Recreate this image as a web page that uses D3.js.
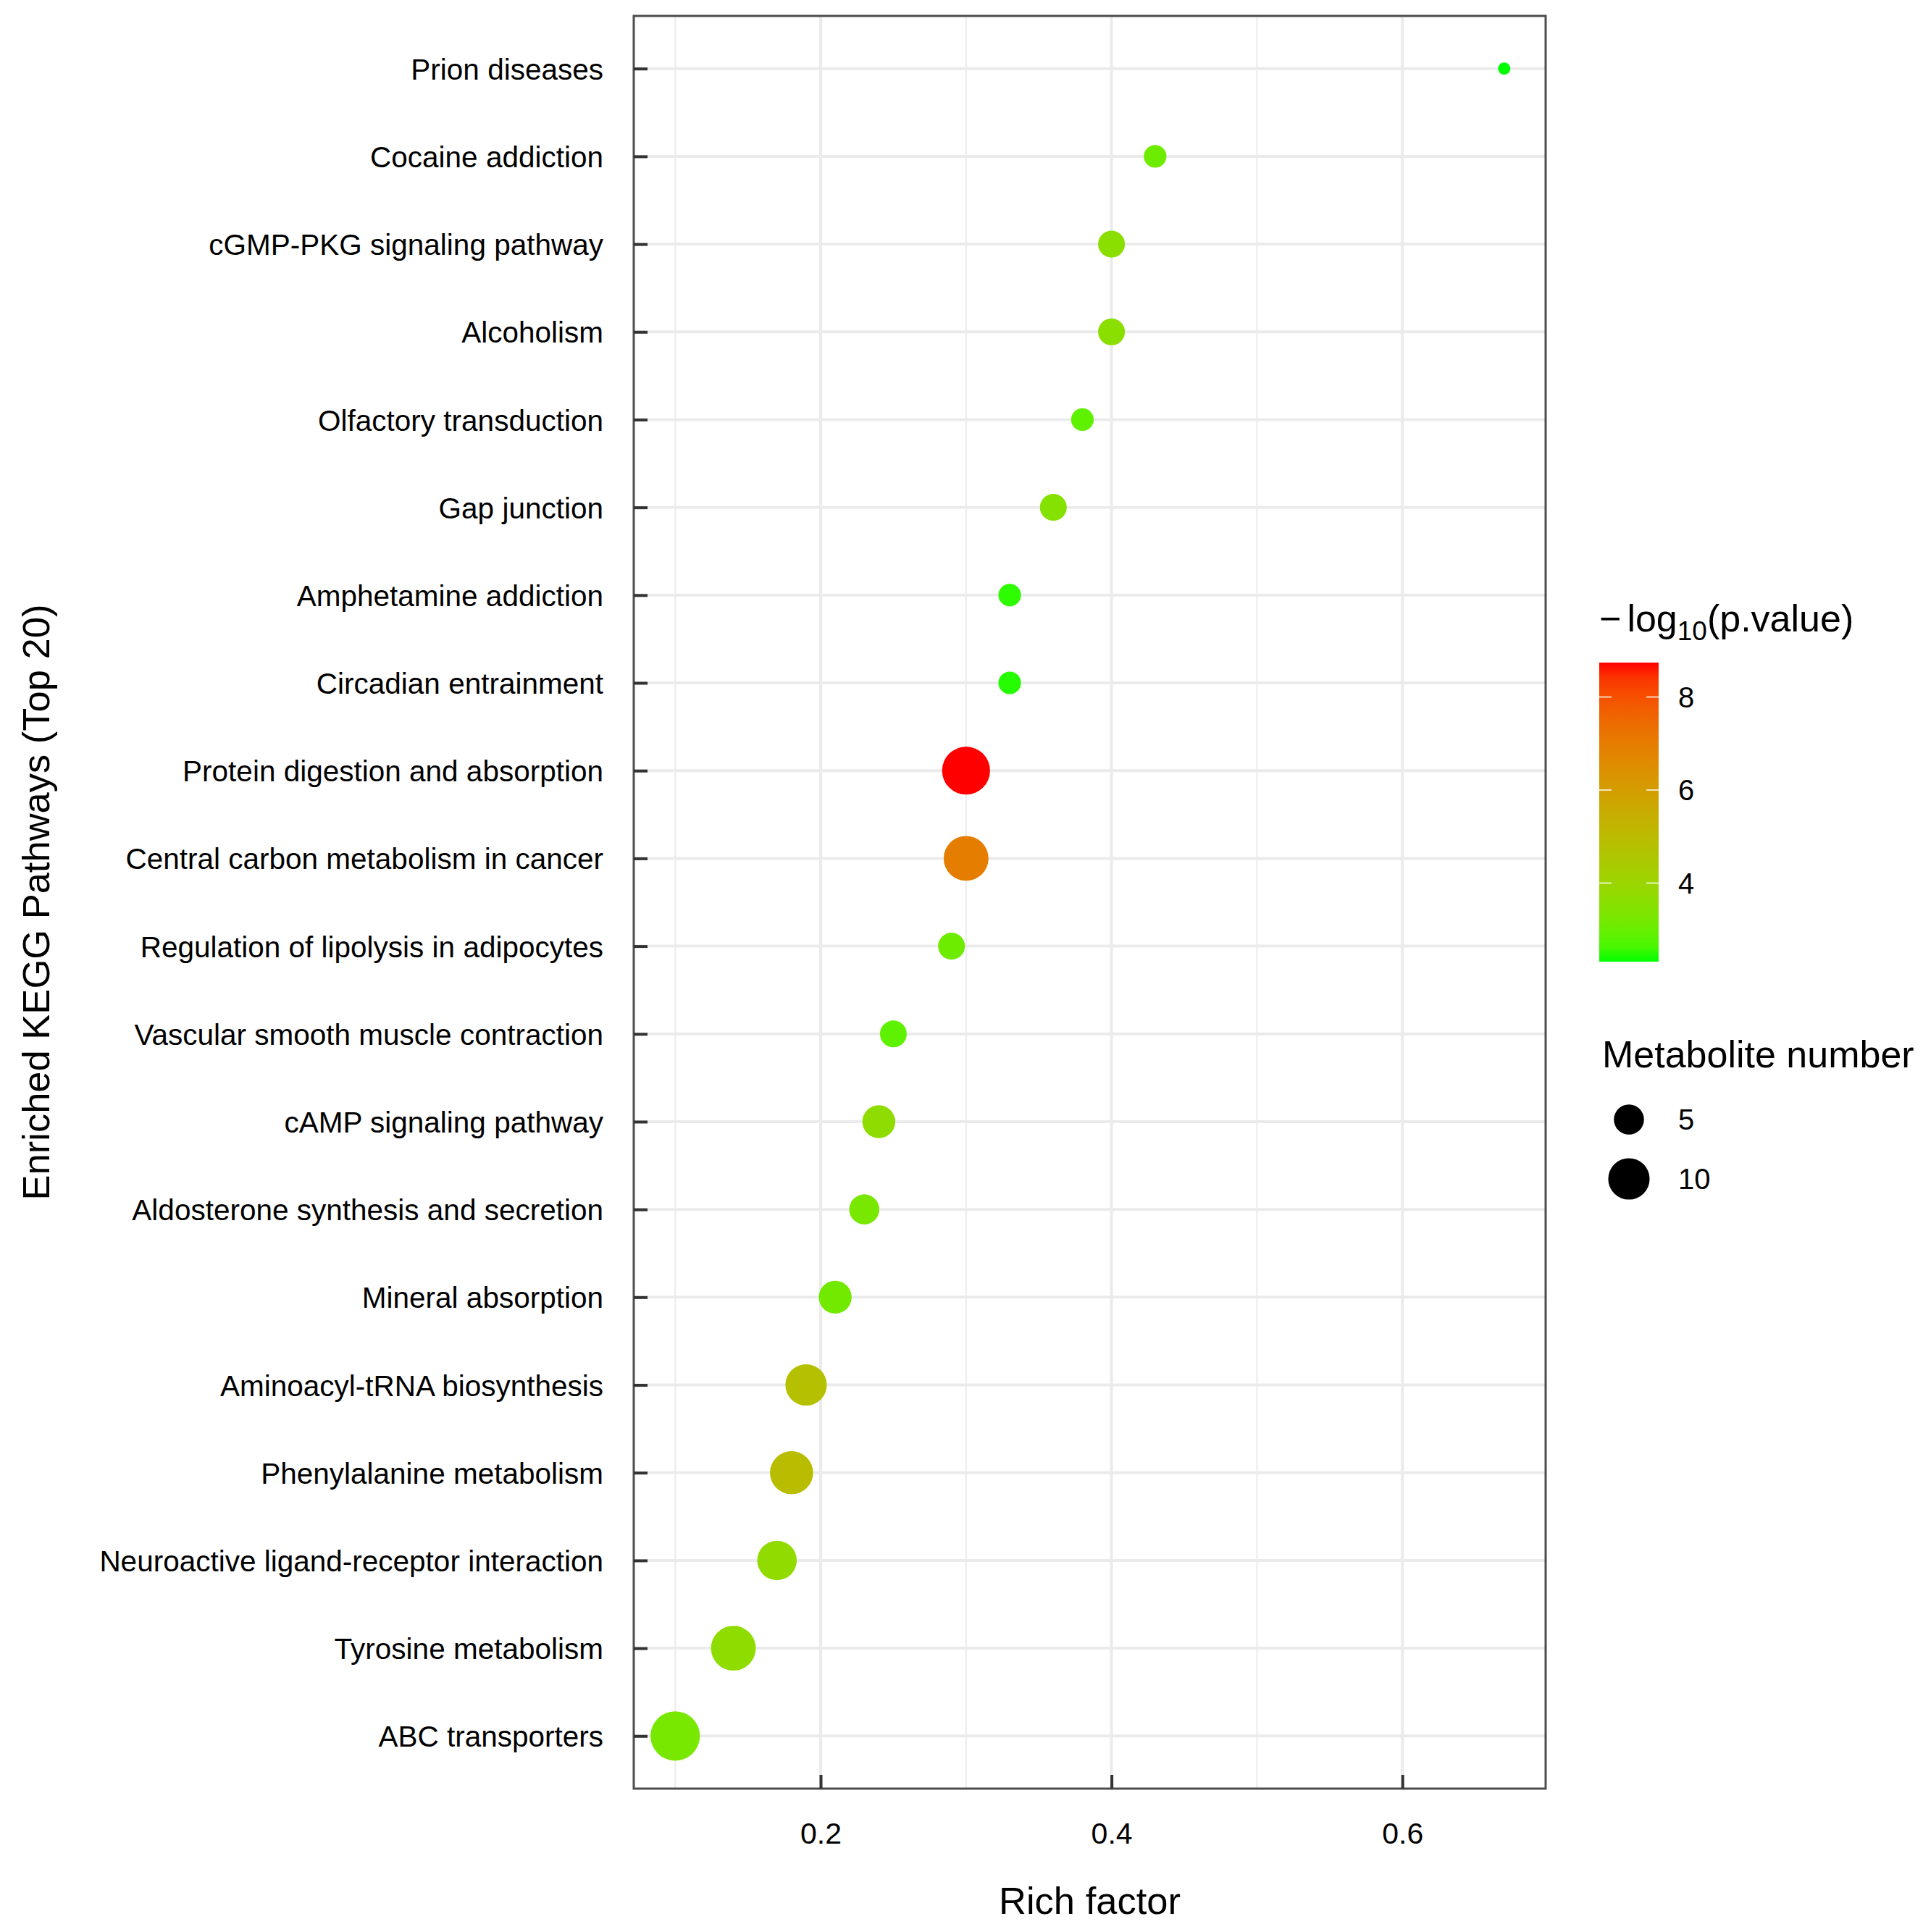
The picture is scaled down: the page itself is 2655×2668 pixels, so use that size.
<!DOCTYPE html>
<html>
<head>
<meta charset="utf-8">
<script src="https://cdn.jsdelivr.net/npm/d3@7"></script>
<style>
  body { margin: 0; background: #fff; }
  text { font-family: "Liberation Sans", Arial, sans-serif; fill: #000; }
</style>
</head>
<body>
<div id="kegg-bubble-plot"></div>
<script>
const width = 2655
const height = 2668

// Panel box (ggplot-like layout)
const panel = { left: 875, right: 2134, top: 22, bottom: 2470 }

// --- Data (top to bottom as in the figure) ---
const pathways = [
  "Prion diseases", "Cocaine addiction", "cGMP-PKG signaling pathway", "Alcoholism",
  "Olfactory transduction", "Gap junction", "Amphetamine addiction", "Circadian entrainment",
  "Protein digestion and absorption", "Central carbon metabolism in cancer",
  "Regulation of lipolysis in adipocytes", "Vascular smooth muscle contraction",
  "cAMP signaling pathway", "Aldosterone synthesis and secretion", "Mineral absorption",
  "Aminoacyl-tRNA biosynthesis", "Phenylalanine metabolism",
  "Neuroactive ligand-receptor interaction", "Tyrosine metabolism", "ABC transporters"
]
const richFactor = [0.67, 0.43, 0.40, 0.40, 0.38, 0.36, 0.33, 0.33, 0.30, 0.30,
                    0.29, 0.25, 0.24, 0.23, 0.21, 0.19, 0.18, 0.17, 0.14, 0.10]
const metaboliteNumber = [2, 3, 4, 4, 3, 4, 3, 3, 14, 12, 4, 4, 6, 5, 6, 10, 11, 9, 12, 15]
const negLogP = [2.31, 3.08, 3.62, 3.62, 2.86, 3.50, 2.44, 2.40, 8.74, 6.94,
                 3.08, 2.86, 3.72, 3.25, 3.15, 4.80, 4.92, 3.78, 3.70, 3.25]

const xTicks = [0.2, 0.4, 0.6]
const xMinorTicks = [0.1, 0.3, 0.5]
const colorTicks = [4, 6, 8]
const sizeBreaks = [5, 10]

const rows = pathways.map((p, i) => ({
  pathway: p, rich: richFactor[i], count: metaboliteNumber[i], p: negLogP[i]
}))

const svg = d3.select("#kegg-bubble-plot")
  .append("svg")
    .attr("width", width)
    .attr("height", height)

svg.append("rect").attr("width", width).attr("height", height).attr("fill", "#fff")

// --- Scales ---
const xExtent = d3.extent(richFactor)
const xPad = (xExtent[1] - xExtent[0]) * 0.05
const xScale = d3.scaleLinear()
  .domain([xExtent[0] - xPad, xExtent[1] + xPad])
  .range([panel.left, panel.right])

const yScale = d3.scalePoint()
  .domain(pathways)
  .range([panel.top, panel.bottom])
  .padding(0.6)

const pExtent = d3.extent(negLogP)
const colorScale = d3.scaleLinear()
  .domain(pExtent)
  .range(["#00ff00", "#ff0000"])
  .interpolate(d3.interpolateLab)

// area-style size scale: radius grows with sqrt of rescaled count
const countScale = d3.scaleLinear().domain(d3.extent(metaboliteNumber)).range([0, 1])
const radiusScale = d3.scaleLinear().domain([0, 1]).range([8.5, 34.1])
const radius = v => radiusScale(Math.sqrt(Math.max(0, countScale(v))))

// --- Grid ---
const grid = svg.append("g").attr("stroke", "#ebebeb")

grid.selectAll(".minor-x")
  .data(xMinorTicks)
  .join("line")
    .attr("x1", d => xScale(d)).attr("x2", d => xScale(d))
    .attr("y1", panel.top).attr("y2", panel.bottom)
    .attr("stroke-width", 2)

grid.selectAll(".major-x")
  .data(xTicks)
  .join("line")
    .attr("x1", d => xScale(d)).attr("x2", d => xScale(d))
    .attr("y1", panel.top).attr("y2", panel.bottom)
    .attr("stroke-width", 4)

grid.selectAll(".major-y")
  .data(pathways)
  .join("line")
    .attr("x1", panel.left).attr("x2", panel.right)
    .attr("y1", d => yScale(d)).attr("y2", d => yScale(d))
    .attr("stroke-width", 4)

// --- Points ---
svg.append("g")
  .selectAll("circle")
  .data(rows)
  .join("circle")
    .attr("cx", d => xScale(d.rich))
    .attr("cy", d => yScale(d.pathway))
    .attr("r", d => radius(d.count))
    .attr("fill", d => colorScale(d.p))

// Panel border
svg.append("rect")
  .attr("x", panel.left).attr("y", panel.top)
  .attr("width", panel.right - panel.left)
  .attr("height", panel.bottom - panel.top)
  .attr("fill", "none")
  .attr("stroke", "#4d4d4d")
  .attr("stroke-width", 3)

// --- Axes (ticks point inward) ---
const xAxis = svg.append("g")
  .attr("transform", `translate(0, ${panel.bottom})`)
  .call(d3.axisBottom(xScale).tickValues(xTicks).tickFormat(d3.format(".1f"))
    .tickSizeInner(-19).tickSizeOuter(0).tickPadding(47))
xAxis.select(".domain").remove()
xAxis.selectAll("line").attr("stroke", "#333").attr("stroke-width", 4)
xAxis.selectAll("text").attr("font-size", 41).attr("fill", "#000")
  .style("font-family", "'Liberation Sans', Arial, sans-serif")

const yAxis = svg.append("g")
  .attr("transform", `translate(${panel.left}, 0)`)
  .call(d3.axisLeft(yScale).tickSizeInner(-19).tickSizeOuter(0).tickPadding(42))
yAxis.select(".domain").remove()
yAxis.selectAll("line").attr("stroke", "#333").attr("stroke-width", 4)
yAxis.selectAll("text").attr("font-size", 40.5).attr("fill", "#000").attr("dy", "0.36em")
  .style("font-family", "'Liberation Sans', Arial, sans-serif")

// Axis titles
svg.append("text")
  .attr("x", (panel.left + panel.right) / 2)
  .attr("y", 2643)
  .attr("text-anchor", "middle")
  .attr("font-size", 52.5)
  .text("Rich factor")

svg.append("text")
  .attr("transform", `translate(68, ${(panel.top + panel.bottom) / 2}) rotate(-90)`)
  .attr("text-anchor", "middle")
  .attr("font-size", 52.5)
  .text("Enriched KEGG Pathways (Top 20)")

// --- Colour bar legend ---
const bar = { x: 2208, w: 82, top: 915, bottom: 1328 }
const barScale = d3.scaleLinear().domain(pExtent).range([bar.bottom, bar.top])

const grad = svg.append("defs").append("linearGradient")
  .attr("id", "p-grad")
  .attr("x1", 0).attr("y1", 1).attr("x2", 0).attr("y2", 0)
grad.selectAll("stop")
  .data(d3.range(0, 1.0001, 0.05))
  .join("stop")
    .attr("offset", d => d)
    .attr("stop-color", d => colorScale(pExtent[0] + d * (pExtent[1] - pExtent[0])))

const legendTitle = svg.append("text")
  .attr("x", bar.x)
  .attr("y", 872)
  .attr("font-size", 52)
legendTitle.append("tspan").text("\u2212")
legendTitle.append("tspan").attr("dx", 8).text("log")
legendTitle.append("tspan").attr("dy", 12).attr("font-size", 37).text("10")
legendTitle.append("tspan").attr("dy", -12).text("(p.value)")

svg.append("rect")
  .attr("x", bar.x).attr("y", bar.top)
  .attr("width", bar.w).attr("height", bar.bottom - bar.top)
  .attr("fill", "url(#p-grad)")

const barTicks = svg.append("g")
barTicks.selectAll(".tl")
  .data(colorTicks)
  .join("line")
    .attr("x1", bar.x).attr("x2", bar.x + 17)
    .attr("y1", d => barScale(d)).attr("y2", d => barScale(d))
    .attr("stroke", "#fff").attr("stroke-width", 1.5)
barTicks.selectAll(".tr")
  .data(colorTicks)
  .join("line")
    .attr("x1", bar.x + bar.w - 17).attr("x2", bar.x + bar.w)
    .attr("y1", d => barScale(d)).attr("y2", d => barScale(d))
    .attr("stroke", "#fff").attr("stroke-width", 1.5)
barTicks.selectAll("text")
  .data(colorTicks)
  .join("text")
    .attr("x", 2317)
    .attr("y", d => barScale(d))
    .attr("dy", "0.36em")
    .attr("font-size", 40)
    .text(d => d)

// --- Size legend ---
svg.append("text")
  .attr("x", 2212)
  .attr("y", 1474)
  .attr("font-size", 52)
  .text("Metabolite number")

const sizeKeyY = [1546, 1628]
const sizeKey = svg.append("g")
sizeKey.selectAll("circle")
  .data(sizeBreaks)
  .join("circle")
    .attr("cx", 2249)
    .attr("cy", (d, i) => sizeKeyY[i])
    .attr("r", d => radius(d))
    .attr("fill", "#000")
sizeKey.selectAll("text")
  .data(sizeBreaks)
  .join("text")
    .attr("x", 2317)
    .attr("y", (d, i) => sizeKeyY[i])
    .attr("dy", "0.36em")
    .attr("font-size", 40)
    .text(d => d)
</script>
</body>
</html>
